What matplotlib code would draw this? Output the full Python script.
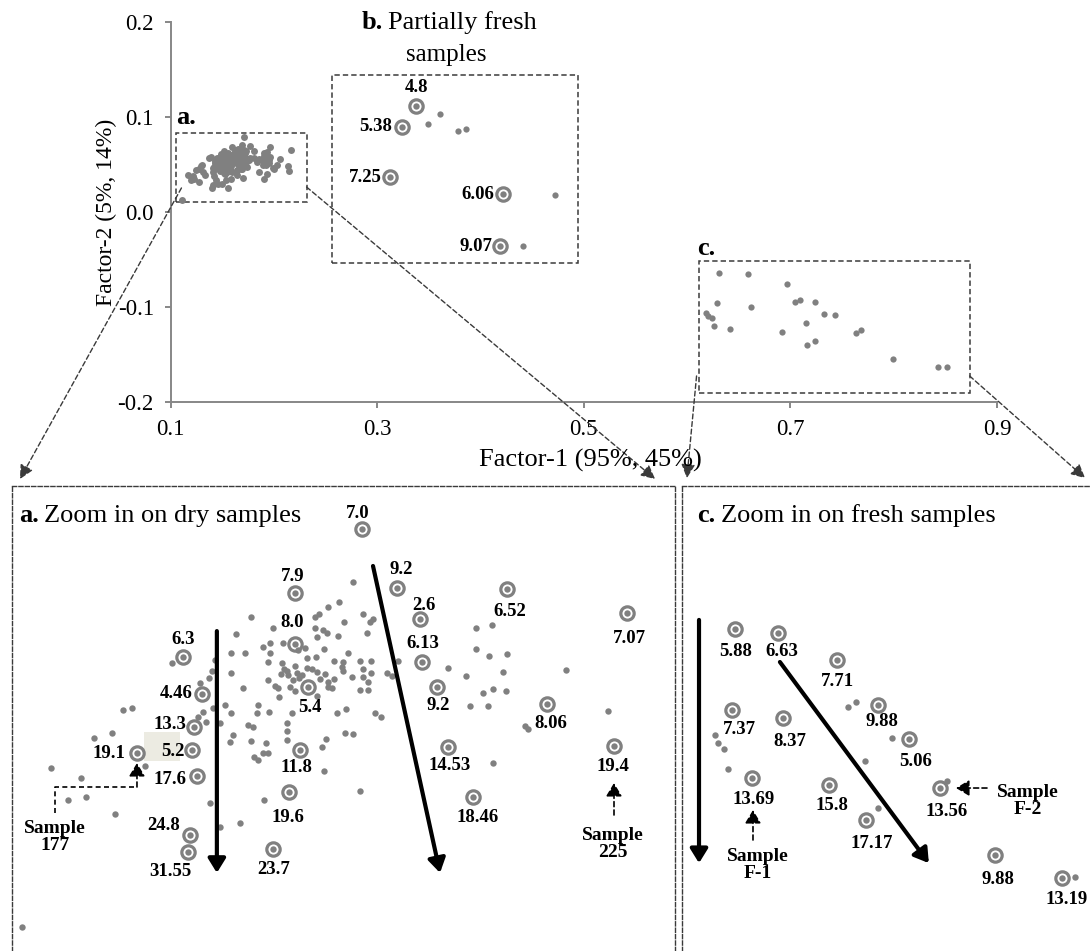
import matplotlib
matplotlib.use('Agg')
import matplotlib.pyplot as plt
from matplotlib.patches import Rectangle, ConnectionPatch, FancyArrowPatch

plt.rcParams['font.family'] = ['Liberation Serif', 'DejaVu Serif']

# ---------------- data ----------------
x_ticks = [0.1, 0.3, 0.5, 0.7, 0.9]
x_tick_labels = ['0.1', '0.3', '0.5', '0.7', '0.9']
y_ticks = [-0.2, -0.1, 0.0, 0.1, 0.2]
y_tick_labels = ['-0.2', '-0.1', '0.0', '0.1', '0.2']

# dry samples (Factor-1, Factor-2), unlabelled
dry_x = [
    0.1692, 0.1668, 0.1649, 0.1633, 0.1626, 0.1710, 0.1727, 0.1722, 0.1677, 0.1515,
    0.1553, 0.1626, 0.1640, 0.1647, 0.1630, 0.1489, 0.1717, 0.1570, 0.1548, 0.1536,
    0.1609, 0.1597, 0.1642, 0.1548, 0.1480, 0.1504, 0.1684, 0.1612, 0.1628, 0.1544,
    0.1569, 0.1659, 0.1675, 0.1704, 0.1724, 0.1452, 0.1591, 0.1612, 0.1673, 0.1572,
    0.1577, 0.1710, 0.1621, 0.1630, 0.1644, 0.1675, 0.1480, 0.1447, 0.1567, 0.1579,
    0.1595, 0.1603, 0.1690, 0.1724, 0.1751, 0.1760, 0.1710, 0.1544, 0.1588, 0.1598,
    0.1635, 0.1659, 0.1649, 0.1718, 0.1442, 0.1426, 0.1557, 0.1562, 0.1583, 0.1591,
    0.1649, 0.1656, 0.1704, 0.1718, 0.1501, 0.1563, 0.1630, 0.1470, 0.1527, 0.1449,
    0.1480, 0.1525, 0.1546, 0.1586, 0.1664, 0.1680, 0.1731, 0.1741, 0.1431, 0.1423,
    0.1436, 0.1461, 0.1510, 0.1518, 0.1577, 0.1577, 0.1678, 0.1692, 0.1483, 0.1478,
    0.1515, 0.1577, 0.1645, 0.1638, 0.1541, 0.1536, 0.1544, 0.1520, 0.1527, 0.1292,
    0.1308, 0.1377, 0.1906, 0.1934, 0.1906, 0.1929, 0.1960, 0.1771, 0.1858, 0.1889,
    0.1953, 0.2063, 0.1918, 0.1936, 0.1958, 0.1896, 0.1927, 0.2136, 0.1992, 0.1997,
    0.1936, 0.1704, 0.1273, 0.1242, 0.1330, 0.1167, 0.1219, 0.1196, 0.1228, 0.1278,
    0.1116, 0.1642, 0.1537, 0.1496, 0.1461, 0.1443, 0.1666]
dry_y = [
    0.0701, 0.0668, 0.0659, 0.0648, 0.0643, 0.0648, 0.0639, 0.0634, 0.0634, 0.0643,
    0.0624, 0.0624, 0.0621, 0.0616, 0.0609, 0.0614, 0.0616, 0.0599, 0.0599, 0.0593,
    0.0591, 0.0588, 0.0589, 0.0583, 0.0583, 0.0583, 0.0583, 0.0574, 0.0576, 0.0568,
    0.0566, 0.0569, 0.0568, 0.0569, 0.0569, 0.0571, 0.0561, 0.0558, 0.0559, 0.0556,
    0.0553, 0.0556, 0.0556, 0.0551, 0.0548, 0.0553, 0.0549, 0.0553, 0.0548, 0.0546,
    0.0549, 0.0546, 0.0543, 0.0549, 0.0549, 0.0544, 0.0543, 0.0538, 0.0538, 0.0541,
    0.0539, 0.0539, 0.0534, 0.0534, 0.0541, 0.0533, 0.0528, 0.0524, 0.0526, 0.0519,
    0.0526, 0.0524, 0.0521, 0.0521, 0.0524, 0.0509, 0.0511, 0.0496, 0.0496, 0.0491,
    0.0483, 0.0483, 0.0484, 0.0483, 0.0483, 0.0489, 0.0483, 0.0476, 0.0484, 0.0476,
    0.0468, 0.0466, 0.0463, 0.0459, 0.0466, 0.0453, 0.0449, 0.0448, 0.0446, 0.0434,
    0.0436, 0.0438, 0.0439, 0.0426, 0.0433, 0.0416, 0.0416, 0.0409, 0.0404, 0.0488,
    0.0491, 0.0566, 0.0624, 0.0629, 0.0589, 0.0578, 0.0581, 0.0569, 0.0558, 0.0544,
    0.0551, 0.0554, 0.0516, 0.0523, 0.0519, 0.0494, 0.0494, 0.0486, 0.0461, 0.0456,
    0.0399, 0.0353, 0.0449, 0.0441, 0.0394, 0.0391, 0.0374, 0.0338, 0.0343, 0.0314,
    0.0126, 0.0386, 0.0338, 0.0299, 0.0293, 0.0333, 0.0611]

# dry samples marked with a ring and a value
dry_marked_x = [0.1708, 0.1591, 0.1769, 0.1809, 0.1960, 0.2169, 0.1396, 0.1591, 0.1812,
                0.1430, 0.1614, 0.1838, 0.2030, 0.1416, 0.1316, 0.1412, 0.1600, 0.1421,
                0.1858, 0.2146, 0.1581, 0.1901, 0.1409, 0.1405, 0.1553]
dry_marked_y = [0.0789, 0.0683, 0.0691, 0.0639, 0.0689, 0.0649, 0.0576, 0.0598, 0.0568,
                0.0514, 0.0526, 0.0526, 0.0498, 0.0459, 0.0416, 0.0421, 0.0421, 0.0378,
                0.0426, 0.0428, 0.0351, 0.0343, 0.0279, 0.0251, 0.0256]
dry_marked_labels = ['7.0', '7.9', '9.2', '2.6', '6.52', '7.07', '6.3', '8.0', '6.13',
                     '4.46', '5.4', '9.2', '8.06', '13.3', '19.1', '5.2', '11.8', '17.6',
                     '14.53', '19.4', '19.6', '18.46', '24.8', '31.55', '23.7']

# partially fresh samples
part_x = [0.3488, 0.3604, 0.3778, 0.3865, 0.4408, 0.4717]
part_y = [0.0926, 0.1032, 0.0853, 0.0874, -0.0358, 0.0179]
part_marked_x = [0.3381, 0.3236, 0.3120, 0.4214, 0.4185]
part_marked_y = [0.1116, 0.0895, 0.0368, 0.0189, -0.0358]
part_marked_labels = ['4.8', '5.38', '7.25', '6.06', '9.07']

# fresh samples
fresh_x = [0.7041, 0.7093, 0.6179, 0.6198, 0.6237, 0.6263, 0.7326, 0.7151, 0.7682,
           0.7235, 0.8512]
fresh_y = [-0.0951, -0.0931, -0.1063, -0.1095, -0.1119, -0.1199, -0.1075, -0.1167,
           -0.1247, -0.1355, -0.1631]
fresh_marked_x = [0.6309, 0.6587, 0.6970, 0.7235, 0.6289, 0.6620, 0.7436, 0.6419, 0.6918,
                  0.7157, 0.7637, 0.7993, 0.8428]
fresh_marked_y = [-0.0639, -0.0655, -0.0763, -0.0943, -0.0963, -0.0995, -0.1079, -0.1235,
                  -0.1263, -0.1403, -0.1275, -0.1543, -0.1635]
fresh_marked_labels = ['5.88', '6.63', '7.71', '9.88', '7.37', '8.37', '5.06', '13.69',
                       '15.8', '17.17', '13.56', '9.88', '13.19']

# ---------------- layout / style ----------------
W, H = 1090, 951
DOT = '#808080'
AXC = '#878787'
DASH = '#3a3a3a'
LABEL_FS = 13.5

# label offsets (pixels) and alignment
dry_off = [(-4, 16), (-2, 16), (4, 18), (4, 14), (3, -22), (3, -25), (0, 17), (-3, 21),
           (1, 18), (-10, 1), (2, -21), (2, -19), (4, -20), (-8, 3), (-11, 0), (-7, -2),
           (-3, -17), (-10, -4), (2, -18), (-1, -21), (-1, -26), (5, -21), (-10, 10),
           (-17, -19), (1, -21)]
dry_ha = ['center'] * 9 + ['right'] + ['center'] * 3 + ['right'] * 3 + ['center', 'right'] \
    + ['center'] * 4 + ['right', 'center', 'center']
part_off = [(0, 18), (-9, 0), (-8, 0), (-8, 0), (-7, 0)]
part_ha = ['center', 'right', 'right', 'right', 'right']
fresh_off = [(1, -23), (4, -18), (0, -21), (4, -17), (7, -19), (7, -24), (7, -23),
             (2, -21), (3, -21), (6, -23), (7, -23), (3, -24), (5, -21)]


def rect(x0, y0, x1, y1):
    return [x0 / W, 1 - y1 / H, (x1 - x0) / W, (y1 - y0) / H]


def dots(ax, xs, ys, ms=4.6):
    ax.plot(xs, ys, 'o', color=DOT, ms=ms, mew=0, zorder=3, clip_on=False)


def rings(ax, xs, ys):
    ax.plot(xs, ys, 'o', mfc='none', mec=DOT, mew=2.3, ms=9.6, zorder=4, clip_on=False)
    ax.plot(xs, ys, 'o', color=DOT, ms=4.6, mew=0, zorder=4, clip_on=False)


def values(ax, xs, ys, labels, offs, has):
    for x, y, s, (dx, dy), ha in zip(xs, ys, labels, offs, has):
        ax.annotate(s, (x, y), xytext=(dx * 0.72, dy * 0.72), textcoords='offset points',
                    ha=ha, va='center', fontsize=LABEL_FS, fontweight='bold', zorder=6)


def bold_lead(a, x, y, lead, rest, fs, transform=None):
    """Bold panel letter followed by regular text."""
    tr = transform if transform is not None else a.transData
    t = a.text(x, y, lead, fontsize=fs, fontweight='bold', ha='left', va='baseline',
               transform=tr)
    a.annotate(rest, xy=(1, 0), xycoords=t, xytext=(4, 0), textcoords='offset points',
               fontsize=fs, ha='left', va='bottom')
    return t


fig = plt.figure(figsize=(W / 100, H / 100), dpi=100)

# ---------------- top scatter ----------------
ax = fig.add_axes(rect(170.5, 22, 997, 402))
ax.set_xlim(0.1, 0.9)
ax.set_ylim(-0.2, 0.2)
ax.set_xticks(x_ticks)
ax.set_xticklabels(x_tick_labels)
ax.set_yticks(y_ticks)
ax.set_yticklabels(y_tick_labels)
for s in ['top', 'right']:
    ax.spines[s].set_visible(False)
for s in ['left', 'bottom']:
    ax.spines[s].set_color(AXC)
    ax.spines[s].set_linewidth(1.4)
ax.tick_params(direction='out', length=4, width=1.4, color=AXC, labelsize=16.5, pad=8)

dots(ax, dry_x + dry_marked_x, dry_y + dry_marked_y, ms=5.0)
dots(ax, part_x, part_y, ms=4.5)
rings(ax, part_marked_x, part_marked_y)
values(ax, part_marked_x, part_marked_y, part_marked_labels, part_off, part_ha)
dots(ax, fresh_x + fresh_marked_x, fresh_y + fresh_marked_y, ms=4.5)

box_kw = dict(fill=False, ec=DASH, lw=1.1, ls=(0, (3.5, 2)), zorder=2)
ax.add_patch(Rectangle((0.1058, 0.0105), 0.1259, 0.0725, **box_kw))
ax.add_patch(Rectangle((0.2568, -0.0537), 0.2372, 0.1979, **box_kw))
ax.add_patch(Rectangle((0.6111, -0.1905), 0.2624, 0.1389, **box_kw))

ax.text(0.1058, 0.100, 'a.', fontsize=19, fontweight='bold', ha='left', va='center')
ax.text(0.6102, -0.0379, 'c.', fontsize=19, fontweight='bold', ha='left', va='center')
bold_lead(ax, 0.2849, 0.1925, 'b.', 'Partially fresh', 19)
ax.text(0.3672, 0.1653, 'samples', fontsize=18, ha='center', va='center')

fig.text(590 / W, 1 - 460 / H, 'Factor-1 (95%, 45%)', fontsize=19, ha='center',
         va='center')
fig.text(106 / W, 1 - 212 / H, 'Factor-2 (5%, 14%)', fontsize=17, ha='center',
         va='center', rotation=90)

# ---------------- zoom panel a ----------------
axa = fig.add_axes(rect(12, 486, 675, 951))
axa.set_xlim(0.1099, 0.2253)
axa.set_ylim(0.0086, 0.0861)
# ---------------- zoom panel c ----------------
axc = fig.add_axes(rect(682, 486, 1090, 951))
axc.set_xlim(0.5965, 0.8609)
axc.set_ylim(-0.1927, -0.0067)

for a, visible in ((axa, ['top', 'left', 'right']), (axc, ['top', 'left'])):
    a.set_xticks([])
    a.set_yticks([])
    a.patch.set_alpha(0)
    for s in ['top', 'left', 'right', 'bottom']:
        a.spines[s].set_visible(s in visible)
        a.spines[s].set_linestyle((0, (3, 1.6)))
        a.spines[s].set_color(DASH)
        a.spines[s].set_linewidth(1.0)

dots(axa, dry_x, dry_y)
rings(axa, dry_marked_x, dry_marked_y)
values(axa, dry_marked_x, dry_marked_y, dry_marked_labels, dry_off, dry_ha)
axa.add_patch(Rectangle((0.199, 0.4086), 0.0544, 0.0624, transform=axa.transAxes,
                        fc='#ecebe2', ec='none', zorder=1))
bold_lead(axa, 0.0106, 0.922, 'a.', 'Zoom in on dry samples', 19, transform=axa.transAxes)

dots(axc, fresh_x, fresh_y)
rings(axc, fresh_marked_x, fresh_marked_y)
values(axc, fresh_marked_x, fresh_marked_y, fresh_marked_labels, fresh_off,
       ['center'] * len(fresh_marked_labels))
bold_lead(axc, 0.037, 0.922, 'c.', 'Zoom in on fresh samples', 19, transform=axc.transAxes)


def thick_arrow(a, start, end):
    a.add_patch(FancyArrowPatch(start, end, transform=a.transAxes,
                                arrowstyle='-|>,head_length=0.42,head_width=0.26',
                                mutation_scale=20, lw=3.0, color='black',
                                shrinkA=0, shrinkB=0, zorder=5))


thick_arrow(axa, (0.309, 0.688), (0.309, 0.168))
thick_arrow(axa, (0.5445, 0.828), (0.6456, 0.168))
thick_arrow(axc, (0.0417, 0.712), (0.0417, 0.189))
thick_arrow(axc, (0.240, 0.6215), (0.605, 0.189))


def small_arrow(a, start, end):
    a.annotate('', xy=end, xytext=start, xycoords='axes fraction',
               textcoords='axes fraction',
               arrowprops=dict(arrowstyle='-|>,head_length=0.5,head_width=0.3',
                               linestyle=(0, (3, 2)), lw=1.2, color='black',
                               mutation_scale=16, shrinkA=0, shrinkB=0))


samp_kw = dict(fontsize=14, fontweight='bold', ha='center', va='center', linespacing=1.05)
axa.plot([0.0649, 0.0649, 0.1885], [0.2968, 0.3527, 0.3527], transform=axa.transAxes,
         ls=(0, (3, 2)), color='black', lw=1.2)
small_arrow(axa, (0.1885, 0.3527), (0.1885, 0.4043))
axa.text(0.0649, 0.245, 'Sample\n177', transform=axa.transAxes, **samp_kw)
small_arrow(axa, (0.908, 0.2925), (0.908, 0.3613))
axa.text(0.906, 0.230, 'Sample\n225', transform=axa.transAxes, **samp_kw)
small_arrow(axc, (0.174, 0.2387), (0.174, 0.3032))
axc.text(0.186, 0.185, 'Sample\nF-1', transform=axc.transAxes, **samp_kw)
small_arrow(axc, (0.7475, 0.3505), (0.6716, 0.3505))
axc.text(0.848, 0.3226, 'Sample\nF-2', transform=axc.transAxes, **samp_kw)

# ---------------- connectors from overview boxes to zoom panels ----------------
con_kw = dict(arrowstyle='-|>,head_length=0.6,head_width=0.3', mutation_scale=14,
              color=DASH, lw=1.0, linestyle=(0, (3.5, 2)), shrinkA=0, shrinkB=0)
for xyA, axB, xyB in (((0.1106, 0.0253), axa, (0.012, 1.015)),
                      ((0.2317, 0.0263), axa, (0.970, 1.015)),
                      ((0.6092, -0.1726), axc, (0.012, 1.017)),
                      ((0.8735, -0.1726), axc, (0.988, 1.017))):
    cp = ConnectionPatch(xyA=xyA, coordsA=ax.transData, xyB=xyB, coordsB=axB.transAxes,
                         **con_kw)
    fig.add_artist(cp)

fig.savefig('out.png', dpi=100)
